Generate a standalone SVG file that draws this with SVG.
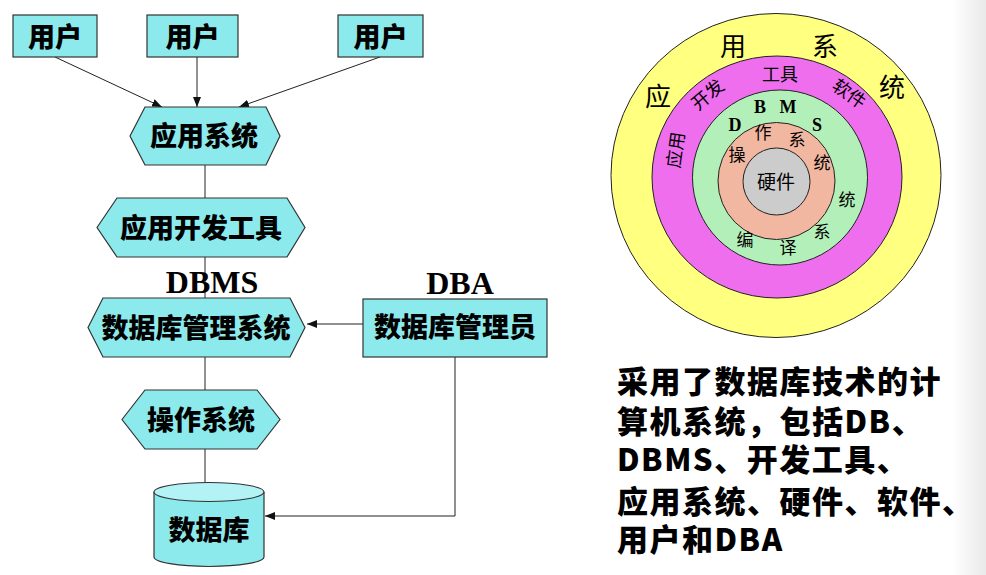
<svg xmlns="http://www.w3.org/2000/svg" width="986" height="575" viewBox="0 0 986 575">
<style>
.n{fill:#8DEAEC;stroke:#333;stroke-width:1.2}
.t{font-family:"Noto Sans CJK SC","Noto Sans",sans-serif;font-weight:900;font-size:27px;fill:#000;text-anchor:middle}
.lt{font-family:"Liberation Serif","Times New Roman",serif;font-weight:bold;font-size:32px;fill:#000;text-anchor:middle}
.c{stroke:#222;stroke-width:1;fill:none}
.r{stroke:#222;stroke-width:1}
.ct{font-family:"Noto Sans CJK SC",sans-serif;fill:#000;text-anchor:middle}
.cb{font-family:"Liberation Serif",serif;font-weight:bold;font-size:18px;fill:#000;text-anchor:middle}
.bt{font-family:"Noto Sans CJK SC","Noto Sans",sans-serif;font-weight:900;font-size:31px;fill:#000;letter-spacing:1.5px}
</style>
<defs>
<marker id="ah" markerUnits="userSpaceOnUse" markerWidth="10" markerHeight="8" refX="10" refY="4" orient="auto">
<path d="M0,0 L10,4 L0,8 Z" fill="#111"/>
</marker>
<linearGradient id="edge" x1="0" y1="0" x2="1" y2="0">
<stop offset="0" stop-color="#fff"/>
<stop offset="1" stop-color="#e9e9e9"/>
</linearGradient>
</defs>
<rect x="0" y="0" width="986" height="575" fill="#fff"/>
<rect x="952" y="0" width="34" height="575" fill="url(#edge)"/>

<g id="connectors">
<line class="c" x1="55" y1="57" x2="162" y2="107" marker-end="url(#ah)"/>
<line class="c" x1="197" y1="57" x2="197" y2="107" marker-end="url(#ah)"/>
<line class="c" x1="380" y1="57" x2="239" y2="107" marker-end="url(#ah)"/>
<line class="c" x1="205" y1="165" x2="205" y2="198"/>
<line class="c" x1="205" y1="257" x2="205" y2="298"/>
<line class="c" x1="363" y1="324" x2="307" y2="324" marker-end="url(#ah)"/>
<line class="c" x1="205" y1="357" x2="205" y2="390"/>
<line class="c" x1="205" y1="449" x2="205" y2="483"/>
<polyline class="c" points="455,357 455,516 265,516" marker-end="url(#ah)"/>
</g>

<g id="user1"><rect class="n" x="13" y="15" width="84" height="42"/><text class="t" x="55" y="47">用户</text></g>
<g id="user2"><rect class="n" x="147" y="15" width="91" height="42"/><text class="t" x="192.5" y="47">用户</text></g>
<g id="user3"><rect class="n" x="338" y="15" width="85" height="42"/><text class="t" x="380.5" y="47">用户</text></g>

<g id="app-system"><polygon class="n" points="130,136 145,107 266,107 280,136 266,165 145,165"/><text class="t" x="204" y="146">应用系统</text></g>
<g id="app-dev-tools"><polygon class="n" points="97,227.5 117,198 287,198 305,227.5 287,257 117,257"/><text class="t" x="201" y="237.5">应用开发工具</text></g>
<text class="lt" x="212" y="293">DBMS</text>
<text class="lt" x="460" y="294">DBA</text>
<g id="dbms"><polygon class="n" points="88,327.5 103,298 290,298 305,327.5 290,357 103,357"/><text class="t" x="196" y="337.5">数据库管理系统</text></g>
<g id="dba"><rect class="n" x="363" y="299" width="184" height="58"/><text class="t" x="455" y="337">数据库管理员</text></g>
<g id="os"><polygon class="n" points="122,419.5 145,390 257,390 280,419.5 257,449 145,449"/><text class="t" x="201" y="429.5">操作系统</text></g>
<g id="database">
<path class="n" d="M154,492 L154,557 A55,9.5 0 0 0 264,557 L264,492"/>
<ellipse cx="209" cy="492" rx="55" ry="9.5" fill="#B4F3F5" stroke="#333" stroke-width="1.2"/>
<text class="t" x="209" y="540">数据库</text>
</g>

<g id="rings">
<ellipse class="r" cx="776" cy="175.5" rx="165" ry="162" fill="#FFFF80"/>
<ellipse class="r" cx="777" cy="177" rx="125" ry="121" fill="#EE6EEE"/>
<circle class="r" cx="780" cy="177.5" r="87.5" fill="#B3EFB8"/>
<circle class="r" cx="776.5" cy="181" r="58.5" fill="#F2B7A0"/>
<circle class="r" cx="776.5" cy="181.5" r="33.5" fill="#CCCCCC"/>
<text class="ct" x="658" y="106" font-size="26">应</text>
<text class="ct" x="733" y="56" font-size="26">用</text>
<text class="ct" x="825" y="56" font-size="26">系</text>
<text class="ct" x="892" y="97" font-size="26">统</text>
<text class="ct" font-size="18" transform="translate(708,95) rotate(-40)" y="6">开发</text>
<text class="ct" x="780" y="81" font-size="18">工具</text>
<text class="ct" font-size="18" transform="translate(849,94) rotate(35)" y="6">软件</text>
<text class="ct" font-size="18" transform="translate(676,150) rotate(-82)" y="6">应用</text>
<text class="cb" x="760" y="113">B</text>
<text class="cb" x="788" y="113">M</text>
<text class="cb" x="735" y="131">D</text>
<text class="cb" x="817" y="131">S</text>
<text class="ct" x="763" y="139" font-size="17">作</text>
<text class="ct" x="797" y="146" font-size="17">系</text>
<text class="ct" x="822" y="169" font-size="17">统</text>
<text class="ct" x="737" y="161" font-size="17">操</text>
<text class="ct" x="776" y="189" font-size="19">硬件</text>
<text class="ct" x="847" y="206" font-size="17">统</text>
<text class="ct" x="822" y="238" font-size="17">系</text>
<text class="ct" x="788" y="254" font-size="17">译</text>
<text class="ct" x="745" y="246" font-size="17">编</text>
</g>

<g id="caption">
<text class="bt" x="617" y="393">采用了数据库技术的计</text>
<text class="bt" x="617" y="433">算机系统，包括DB、</text>
<text class="bt" x="617" y="471">DBMS、开发工具、</text>
<text class="bt" x="617" y="513">应用系统、硬件、软件、</text>
<text class="bt" x="617" y="551">用户和DBA</text>
</g>
</svg>
